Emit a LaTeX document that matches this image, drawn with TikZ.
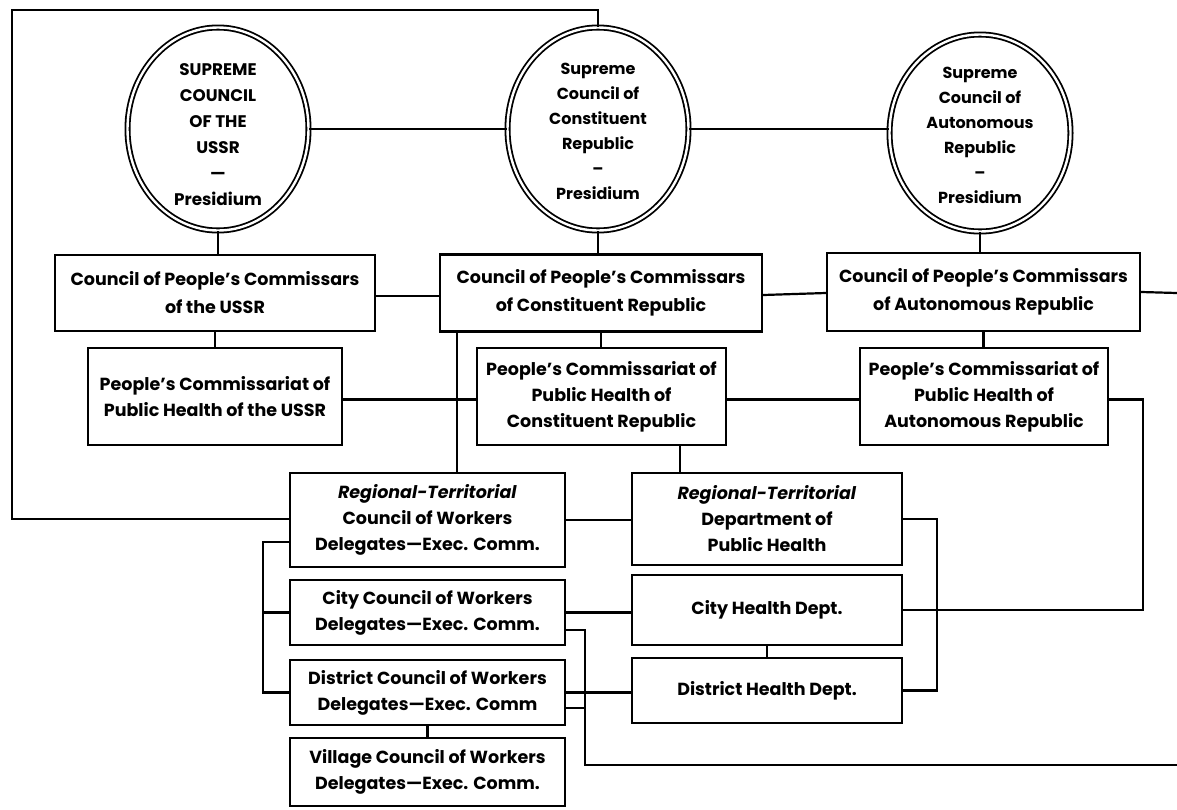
\documentclass[tikz,border=0pt]{standalone}
\usepackage{fontspec}
\setmainfont{Poppins}
\usetikzlibrary{shapes.geometric}
\begin{document}
\begin{tikzpicture}[x=1pt,y=-1pt,
  box/.style={draw, line width=2.4pt, align=center, inner sep=0pt,
    font=\bfseries\fontsize{17.5}{26}\selectfont},
  wide/.style={font=\bfseries\fontsize{17.5}{28}\selectfont},
  oval/.style={ellipse, draw, double, double distance=2.4pt, line width=1.8pt,
    inner sep=0pt, minimum width=181pt, minimum height=203pt},
  otext/.style={align=center, inner sep=0pt, font=\bfseries\fontsize{16}{25}\selectfont},
  bigtext/.style={font=\bfseries\fontsize{16.8}{26}\selectfont},
  conn/.style={line width=2.2pt}]
\useasboundingbox (0,0) rectangle (1177,809);

% ellipses
\node[oval] (e1) at (218,129) {};
\node[oval] (e2) at (598,129) {};
\node[oval, minimum height=197pt] (e3) at (980,133) {};
\node[otext, bigtext] (t1) at (218,135) {SUPREME\\COUNCIL\\OF THE\\USSR\\—\\Presidium};
\node[otext] (t2) at (598,131) {Supreme\\Council of\\Constituent\\Republic\\–\\Presidium};
\node[otext] (t3) at (980,135) {Supreme\\Council of\\Autonomous\\Republic\\–\\Presidium};

% boxes
\node[box, wide, minimum width=320pt, minimum height=76pt] (cpc1) at (215,293) {Council of People’s Commissars\\of the USSR};
\node[box, wide, minimum width=322pt, minimum height=77pt] (cpc2) at (601,293) {Council of People’s Commissars\\of Constituent Republic};
\node[box, wide, minimum width=313pt, minimum height=78pt] (cpc3) at (983.5,292) {Council of People’s Commissars\\of Autonomous Republic};
\node[box, minimum width=254pt, minimum height=97pt] (ph1) at (215,396.5) {People’s Commissariat of\\Public Health of the USSR};
\node[box, minimum width=249pt, minimum height=97pt] (ph2) at (601.5,396.5) {People’s Commissariat of\\Public Health of\\Constituent Republic};
\node[box, minimum width=248pt, minimum height=97pt] (ph3) at (984,396.5) {People’s Commissariat of\\Public Health of\\Autonomous Republic};
\node[box, minimum width=275pt, minimum height=94pt] (rtc) at (427.5,520) {\textit{Regional-Territorial}\\Council of Workers\\Delegates—Exec. Comm.};
\node[box, minimum width=270pt, minimum height=92pt] (rd) at (767,519) {\textit{Regional-Territorial}\\Department of\\Public Health};
\node[box, minimum width=275pt, minimum height=65pt] (cc) at (427.5,612.5) {City Council of Workers\\Delegates—Exec. Comm.};
\node[box, minimum width=270pt, minimum height=70pt] (chd) at (767,610) {City Health Dept.};
\node[box, minimum width=275pt, minimum height=65pt] (dc) at (427.5,692.5) {District Council of Workers\\Delegates—Exec. Comm};
\node[box, minimum width=270pt, minimum height=65pt] (dhd) at (767,690.5) {District Health Dept.};
\node[box, minimum width=275pt, minimum height=68pt] (vc) at (427.5,772) {Village Council of Workers\\Delegates—Exec. Comm.};

% helper coordinates
\coordinate (tl) at (12,10);
\coordinate (bl) at (12,519);
\coordinate (xa) at (457,0);
\coordinate (xb) at (680,0);
\coordinate (xr) at (1143,0);
\coordinate (xl) at (263,0);
\coordinate (xm) at (937,0);
\coordinate (xs) at (585,0);
\coordinate (re1) at (1177,293);
\coordinate (re2) at (1177,765);
\coordinate (dcl) at ([yshift=-15.5pt]dc.east);

% connectors
\draw[conn] (e2.north) |- (tl) -- (bl) -- (rtc.west |- bl);
\draw[conn] (e1.east) -- (e2.west);
\draw[conn] (e2.east) -- (e2.east -| e3.west);
\draw[conn] (e1.south) -- (e1.south |- cpc1.north);
\draw[conn] (e2.south) -- (e2.south |- cpc2.north);
\draw[conn] (e3.south) -- (e3.south |- cpc3.north);
\draw[conn] ([yshift=-3pt]cpc1.east) -- ([yshift=-3pt]cpc2.west);
\draw[conn] ([yshift=-2pt]cpc2.east) -- (cpc2.east -| cpc3.west);
\draw[conn] (cpc3.east) -- (re1);
\draw[conn] (cpc1.south) -- (ph1.north);
\draw[conn] (cpc2.south) -- (cpc2.south |- ph2.north);
\draw[conn] (cpc3.south) -- (cpc3.south |- ph3.north);
\draw[conn] ([yshift=-3pt]ph1.east) -- ([yshift=-3pt]ph2.west);
\draw[conn] ([yshift=-3pt]ph2.east) -- ([yshift=-3pt]ph3.west);
\draw[conn] (xa |- cpc2.south) -- (xa |- rtc.north);
\draw[conn] (xb |- ph2.south) -- (xb |- rd.north);
\draw[conn] ([yshift=-3pt]ph3.east) -| (xr |- chd.east) -- (chd.east);
\draw[conn] (rtc.east) -- (rtc.east -| rd.west);
\draw[conn] ([yshift=-22pt]rtc.west) -| (xl |- dc.west) -- (dc.west);
\draw[conn] (cc.west) -- (xl |- cc.west);
\draw[conn] (rd.east) -| (xm |- dhd.east) -- (dhd.east);
\draw[conn] (cc.east) -- (cc.east -| chd.west);
\draw[conn] (dc.east) -- (dc.east -| dhd.west);
\draw[conn] ([yshift=-17.5pt]cc.east) -| (xs |- re2) -- (re2);
\draw[conn] (dcl) -- (xs |- dcl);
\draw[conn] (chd.south) -- (dhd.north);
\draw[conn] (dc.south) -- (vc.north);
\end{tikzpicture}
\end{document}
